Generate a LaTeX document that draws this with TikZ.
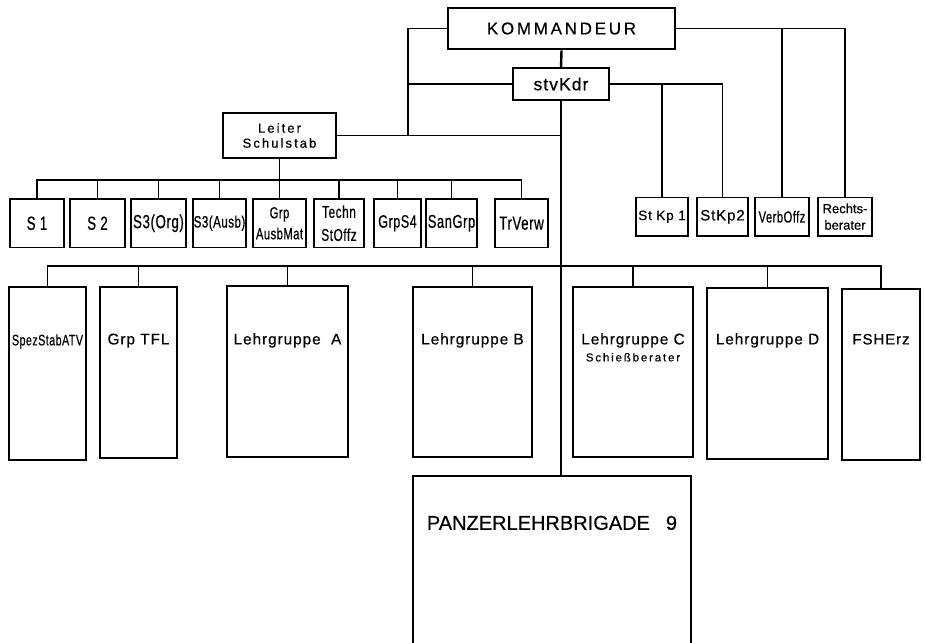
\documentclass[tikz,border=0pt]{standalone}
\usepackage{fontspec}
\setmainfont[FakeBold=0.5]{Liberation Sans}
\newfontfamily\kdrfont[LetterSpace=16,FakeBold=0.5]{Liberation Sans}
\newfontfamily\grpfont[LetterSpace=6,FakeBold=0.5]{Liberation Sans}
\newfontfamily\engfont[FakeStretch=0.7,LetterSpace=3,FakeBold=0.5]{Liberation Sans}
\newcommand{\fsz}[2]{\fontsize{#1}{#2}\selectfont}

\begin{document}
\begin{tikzpicture}[x=1pt, y=-1pt,
        box/.style={rectangle, draw, line width=1.1pt, inner sep=0pt, align=center},
        kdrbox/.style={box, line width=2.6pt, font=\kdrfont\fsz{17}{20}},
        staffbox/.style={box, minimum height=48.5pt, font=\engfont\fsz{19}{20}},
        sidebox/.style={box, minimum height=38.5pt},
        grpbox/.style={box, line width=1.2pt},
        grplabel/.style={anchor=base, inner sep=0pt, font=\grpfont\fsz{15.4}{18}},
        conn/.style={line width=1.1pt},
        trunk/.style={line width=2.4pt},
    ]
        % ====== Rahmen ======
        \clip (0,0) rectangle (925,642);

        % ====== Führung: Kommandeur, stvKdr, Leiter Schulstab ======
        \node[kdrbox, minimum width=227pt, minimum height=41pt] (kdr) at (561.5,28.5) {KOMMANDEUR};
        \node[box, minimum width=96pt, minimum height=32pt, font=\grpfont\fsz{17.5}{20}] (stv) at (561,84) {stvKdr};
        \node[box, minimum width=113pt, minimum height=45pt, font=\kdrfont\fsz{13}{15}] (leiter) at (279.5,135.5) {Leiter\\Schulstab};

        % ====== Schulstab (Zeile unter Leiter) ======
        \node[staffbox, minimum width=54pt] (s1)     at (37,223.25)    {S 1};
        \node[staffbox, minimum width=55pt] (s2)     at (97.5,223.25)  {S 2};
        \node[staffbox, minimum width=55pt] (s3org)  at (158.5,223.25) {S3(Org)};
        \node[staffbox, minimum width=53pt, font=\engfont\fsz{16.5}{20}] (s3ausb) at (219.5,223.25) {S3(Ausb)};
        \node[staffbox, minimum width=53pt, font=\engfont\fsz{16}{21}]   (ausbmat) at (279.5,223.25) {Grp\\AusbMat};
        \node[staffbox, minimum width=50pt, font=\engfont\fsz{17}{23}]   (techn)  at (339,223.25)   {Techn\\StOffz};
        \node[staffbox, minimum width=47pt, font=\engfont\fsz{18}{20}]   (grps4)  at (397.5,223.25) {GrpS4};
        \node[staffbox, minimum width=51pt, font=\engfont\fsz{18.5}{20}] (sangrp) at (451.5,223.25) {SanGrp};
        \node[staffbox, minimum width=53pt] (trverw) at (521.5,223.25) {TrVerw};

        % ====== rechte Seite: Stabskompanien, VerbOffz, Rechtsberater ======
        \node[sidebox, minimum width=52pt, font=\grpfont\fsz{13.5}{16}] (stkp1) at (662,216.75)   {St Kp 1};
        \node[sidebox, minimum width=51pt, font=\grpfont\fsz{15}{16}]   (stkp2) at (722.5,216.75) {StKp2};
        \node[sidebox, minimum width=54pt, font=\engfont\fsz{16}{18}]   (verb)  at (782,216.75)   {VerbOffz};
        \node[sidebox, minimum width=54pt, font=\fsz{13}{16.5}]         (recht) at (845,216.75)   {Rechts-\\berater};

        % ====== Lehrgruppen ======
        \node[grpbox, minimum width=77pt,  minimum height=173pt] (spez) at (47.5,373.5)  {};
        \node[grpbox, minimum width=77pt,  minimum height=171pt] (tfl)  at (138.5,372.5) {};
        \node[grpbox, minimum width=121pt, minimum height=171pt] (lga)  at (287.5,371.5) {};
        \node[grpbox, minimum width=119pt, minimum height=170pt] (lgb)  at (472.5,372)   {};
        \node[grpbox, minimum width=120pt, minimum height=170pt] (lgc)  at (633,372)     {};
        \node[grpbox, minimum width=121pt, minimum height=171pt] (lgd)  at (767.5,373.5) {};
        \node[grpbox, minimum width=78pt,  minimum height=171pt] (fsh)  at (881,374.5)   {};

        \node[grplabel, font=\engfont\fsz{15.3}{18}] (spezlabel) at ([yshift=-59pt]spez.north) {SpezStabATV};
        \node[grplabel] (tfllabel) at ([yshift=-58pt]tfl.north) {Grp TFL};
        \node[grplabel] (lgalabel) at ([yshift=-59pt]lga.north) {Lehrgruppe\ \ A};
        \node[grplabel] (lgblabel) at ([yshift=-58pt]lgb.north) {Lehrgruppe B};
        \node[grplabel] (lgclabel) at ([yshift=-58pt]lgc.north) {Lehrgruppe C};
        \node[grplabel, font=\kdrfont\fsz{11.5}{14}] (lgcsub) at ([yshift=-75pt]lgc.north) {Schießberater};
        \node[grplabel] (lgdlabel) at ([yshift=-57pt]lgd.north) {Lehrgruppe D};
        \node[grplabel, font=\grpfont\fsz{15}{18}] (fshlabel) at ([yshift=-56pt]fsh.north) {FSHErz};

        % ====== Brigade (unten, angeschnitten) ======
        \node[box, line width=2.4pt, minimum width=278pt, minimum height=200pt] (plb) at (552,576) {};
        \node[grplabel, font=\fsz{20}{22}] (plblabel) at ([yshift=-55pt]plb.north) {PANZERLEHRBRIGADE\hspace{16pt}9};

        % ====== Verbindungen ======
        \coordinate (kx)   at (408,0);
        \coordinate (sbus) at (0,180);
        \coordinate (gbus) at (0,266);

        % Führungslinien oben
        \draw[conn] (kdr.west) -| (kx |- leiter.east);
        \draw[conn] (stv.west) -- (kx |- stv.west);
        \draw[conn] (leiter.east) -- (leiter.east -| stv.south);
        \draw[conn] (kdr.east) -| (recht.north);
        \draw[conn] (verb.north) -- (verb.north |- kdr.east);
        \draw[conn] (stv.east) -| (stkp2.north);
        \draw[conn] (stkp1.north) -- (stkp1.north |- stv.east);

        % Hauptstrang
        \draw[trunk] (kdr.south) -- (stv.north);
        \draw[trunk] (stv.south) -- (stv.south |- plb.north);

        % Schulstab
        \draw[conn] (leiter.south) -- (leiter.south |- sbus);
        \draw[conn] (s1.north) |- (trverw.north |- sbus) -- (trverw.north);
        \foreach \n in {s2, s3org, s3ausb, ausbmat, techn, grps4, sangrp}
            \draw[conn] (\n.north) -- (\n.north |- sbus);

        % Lehrgruppen
        \draw[conn] (spez.north) |- (fsh.north |- gbus) -- (fsh.north);
        \foreach \n in {tfl, lga, lgb, lgc, lgd}
            \draw[conn] (\n.north) -- (\n.north |- gbus);
    \end{tikzpicture}
\end{document}
